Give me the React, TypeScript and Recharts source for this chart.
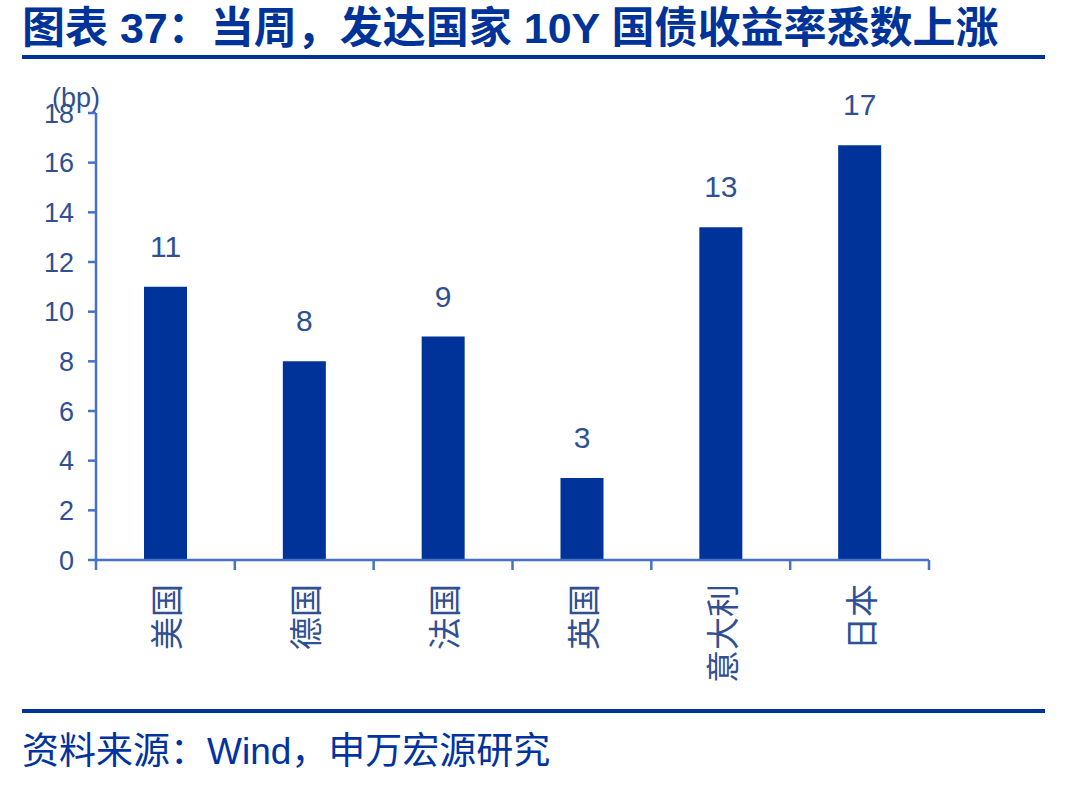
import React from 'react';
import { BarChart, Bar, XAxis, YAxis, LabelList } from 'recharts';

// weekly change in 10Y government bond yields, bp
const countries = ['美国', '德国', '法国', '英国', '意大利', '日本'];
const changes = [11.0, 8.0, 9.0, 3.3, 13.4, 16.7];
const yTicks = [0, 2, 4, 6, 8, 10, 12, 14, 16, 18];

const data = countries.map((name, i) => ({ name, value: changes[i] }));

const NAVY = '#003399';
const AXIS = '#4472C4';
const TEXT = '#2F5092';
const FONT = "'Liberation Sans', 'Noto Sans CJK SC', sans-serif";
const LABEL_GAP = 24;
const EDGE_TICK = 10;

// vertical category name, plus tick marks on the band edges instead of the centre
const CategoryTick = (props: any) => {
  const { x, y, payload, visibleTicksCount } = props;
  const half = payload.offset || 0;
  const axisY = y - LABEL_GAP;
  const isLast = payload.index === visibleTicksCount - 1;
  return (
    <g>
      <line x1={x - half} x2={x - half} y1={axisY} y2={axisY + EDGE_TICK} stroke={AXIS} strokeWidth={2.5} />
      {isLast && (
        <line x1={x + half} x2={x + half} y1={axisY} y2={axisY + EDGE_TICK} stroke={AXIS} strokeWidth={2.5} />
      )}
      <text
        x={x}
        y={y}
        transform={`rotate(-90, ${x}, ${y})`}
        textAnchor="end"
        dominantBaseline="central"
        fill={TEXT}
        fontSize={33}
        fontFamily="'Noto Sans CJK SC', sans-serif"
      >
        {payload.value}
      </text>
    </g>
  );
};

export default function App() {
  return (
    <div style={{ position: 'absolute', left: 0, top: 0, width: 1090, height: 787, background: '#fff', fontFamily: FONT }}>
      <div
        style={{
          position: 'absolute',
          left: 22,
          top: 2,
          fontSize: 43,
          fontWeight: 700,
          color: NAVY,
          whiteSpace: 'nowrap',
          lineHeight: '52px',
        }}
      >
        图表 37：当周，发达国家 10Y 国债收益率悉数上涨
      </div>
      <div style={{ position: 'absolute', left: 22, top: 55, width: 1023, height: 4, background: NAVY }} />

      <div style={{ position: 'absolute', left: 52, top: 83, fontSize: 27, color: TEXT, lineHeight: '30px' }}>(bp)</div>

      <BarChart
        width={1090}
        height={787}
        data={data}
        margin={{ top: 113, right: 161, left: 0, bottom: 77 }}
        style={{ position: 'absolute', left: 0, top: 0 }}
      >
        <XAxis
          dataKey="name"
          height={150}
          interval={0}
          axisLine={{ stroke: AXIS, strokeWidth: 2.5 }}
          tickLine={false}
          tickSize={0}
          tickMargin={LABEL_GAP}
          tick={<CategoryTick />}
        />
        <YAxis
          domain={[0, 18]}
          ticks={yTicks}
          width={96}
          interval={0}
          axisLine={{ stroke: AXIS, strokeWidth: 2.5 }}
          tickLine={{ stroke: AXIS, strokeWidth: 2.5 }}
          tickSize={8}
          tickMargin={14}
          tick={{ fill: TEXT, fontSize: 27, fontFamily: FONT }}
        />
        <Bar dataKey="value" fill={NAVY} barSize={43} isAnimationActive={false}>
          <LabelList
            dataKey="value"
            position="top"
            offset={30}
            formatter={(v: any) => Math.round(Number(v))}
            fill={TEXT}
            fontSize={30}
            fontFamily={FONT}
          />
        </Bar>
      </BarChart>

      <div style={{ position: 'absolute', left: 22, top: 709, width: 1023, height: 4, background: NAVY }} />
      <div
        style={{
          position: 'absolute',
          left: 22,
          top: 729,
          fontSize: 37,
          color: '#0033A0',
          whiteSpace: 'nowrap',
          lineHeight: '46px',
        }}
      >
        资料来源：Wind，申万宏源研究
      </div>
    </div>
  );
}
